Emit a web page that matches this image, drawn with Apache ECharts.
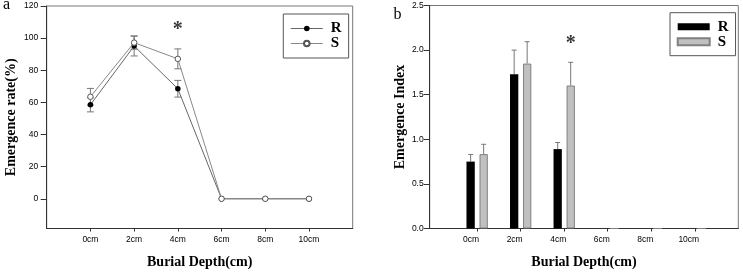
<!DOCTYPE html>
<html lang="en">
<head>
<meta charset="UTF-8">
<title>Emergence rate / Emergence Index</title>
<script src="https://cdn.jsdelivr.net/npm/echarts@6/dist/echarts.min.js"></script>
<style>
    html, body { margin: 0; padding: 0; background: #fff; }
    #main { width: 743px; height: 274px; }
</style>
</head>
<body>
<div id="main"></div>
<script type="text/javascript">
    // burial depth (cm) and their labels
    var depths = [0, 2, 4, 6, 8, 10];
    var depthLabels = ['0cm', '2cm', '4cm', '6cm', '8cm', '10cm'];

    // panel a: emergence rate (%), mean and error
    var rateR = [58.5, 95.1, 68.5, 0, 0, 0];
    var rateRErr = [4.4, 6.2, 5.2, 0, 0, 0];
    var rateS = [63.5, 97.2, 87.1, 0, 0, 0];
    var rateSErr = [5.2, 4.1, 6.2, 0, 0, 0];
    var rateTicks = [0, 20, 40, 60, 80, 100, 120];

    // panel b: emergence index, mean and error
    var indexR = [0.75, 1.73, 0.89, 0, 0, 0];
    var indexRErr = [0.08, 0.27, 0.074, 0, 0, 0];
    var indexS = [0.834, 1.849, 1.603, 0, 0, 0];
    var indexSErr = [0.11, 0.245, 0.26, 0, 0, 0];

    // significance marks (*)
    var starA = [[4, 107]];
    var starB = [[4, 2.1]];

    var serif = '"Liberation Serif", "Times New Roman", serif';
    var sans = '"Liberation Sans", Arial, sans-serif';

    function pairs(xs, ys, es) {
        var out = [];
        for (var i = 0; i < xs.length; i++) {
            out.push(es ? [xs[i], ys[i], es[i]] : [xs[i], ys[i]]);
        }
        return out;
    }

    // error bar with caps on both ends (panel a)
    function errBoth(color) {
        return function (params, api) {
            var x = api.value(0), y = api.value(1), e = api.value(2);
            if (!e) return null;
            var t = api.coord([x, y + e]), b = api.coord([x, y - e]);
            var w = 3.5;
            var st = { stroke: color, lineWidth: 1 };
            return {
                type: 'group',
                children: [
                    { type: 'line', shape: { x1: t[0], y1: t[1], x2: b[0], y2: b[1] }, style: st },
                    { type: 'line', shape: { x1: t[0] - w, y1: t[1], x2: t[0] + w, y2: t[1] }, style: st },
                    { type: 'line', shape: { x1: b[0] - w, y1: b[1], x2: b[0] + w, y2: b[1] }, style: st }
                ]
            };
        };
    }

    // upper error bar only (panel b), dx = offset of the bar in the group
    function errUp(color, dx) {
        return function (params, api) {
            var x = api.value(0), y = api.value(1), e = api.value(2);
            if (!e) return null;
            var t = api.coord([x, y + e]), b = api.coord([x, y]);
            var w = 2.5;
            var st = { stroke: color, lineWidth: 1 };
            return {
                type: 'group',
                children: [
                    { type: 'line', shape: { x1: t[0] + dx, y1: t[1], x2: b[0] + dx, y2: b[1] }, style: st },
                    { type: 'line', shape: { x1: t[0] + dx - w, y1: t[1], x2: t[0] + dx + w, y2: t[1] }, style: st }
                ]
            };
        };
    }

    function depthFmt(v) {
        var i = depths.indexOf(v);
        return i < 0 ? '' : depthLabels[i];
    }

    var myChart = echarts.init(document.getElementById('main'));

    var axisLineStyle = { color: '#333', width: 1 };

    option = {
        animation: false,
        textStyle: { fontFamily: sans },
        graphic: [
            { type: 'text', x: 3, y: 4.6, style: { text: 'a', font: '16px ' + serif, fill: '#000', verticalAlign: 'middle' } },
            { type: 'text', x: 393.5, y: 14.6, style: { text: 'b', font: '16px ' + serif, fill: '#000', verticalAlign: 'middle' } }
        ],
        grid: [
            { left: 46.7, top: 6, width: 306, height: 224.7, show: true, borderColor: '#777', borderWidth: 1 },
            { left: 429.7, top: 5.5, width: 308.6, height: 224.5, show: true, borderColor: '#777', borderWidth: 1 }
        ],
        legend: [
            {
                data: ['R', 'S'],
                orient: 'vertical',
                left: 283.3, top: 14,
                padding: [7, 7, 7, 7],
                itemGap: 0, itemWidth: 32, itemHeight: 7,
                borderColor: '#555', borderWidth: 1,
                selectedMode: false,
                lineStyle: { width: 1 },
                textStyle: { fontFamily: serif, fontWeight: 'bold', fontSize: 15, color: '#000', lineHeight: 15, padding: [0, 0, 0, 3] }
            },
            {
                data: ['R index', 'S index'],
                formatter: function (name) { return name.split(' ')[0]; },
                orient: 'vertical',
                left: 670, top: 12.7,
                padding: [6.5, 7, 6.5, 6.7],
                itemGap: 0, itemWidth: 32, itemHeight: 7,
                icon: 'rect',
                borderColor: '#555', borderWidth: 1,
                selectedMode: false,
                textStyle: { fontFamily: serif, fontWeight: 'bold', fontSize: 15, color: '#000', lineHeight: 15, padding: [0, 0, 0, 3] }
            }
        ],
        xAxis: [
            {
                gridIndex: 0, type: 'value', min: -2, max: 12,
                name: 'Burial Depth(cm)', nameLocation: 'middle', nameGap: 26.5,
                nameTextStyle: { fontFamily: serif, fontWeight: 'bold', fontSize: 14, color: '#000' },
                axisLine: { onZero: false, lineStyle: axisLineStyle },
                axisTick: { length: 3, customValues: depths, lineStyle: axisLineStyle },
                axisLabel: { customValues: depths, formatter: depthFmt, fontSize: 8.5, color: '#000', margin: 7 },
                splitLine: { show: false }
            },
            {
                gridIndex: 1, type: 'value', min: -2.18, max: 12,
                name: 'Burial Depth(cm)', nameLocation: 'middle', nameGap: 26.5,
                nameTextStyle: { fontFamily: serif, fontWeight: 'bold', fontSize: 14, color: '#000' },
                axisLine: { onZero: false, lineStyle: axisLineStyle },
                axisTick: { length: 3, customValues: depths, lineStyle: axisLineStyle },
                axisLabel: { customValues: depths, formatter: depthFmt, fontSize: 8.5, color: '#000', margin: 7, padding: [0, 12, 0, 0] },
                splitLine: { show: false }
            }
        ],
        yAxis: [
            {
                gridIndex: 0, type: 'value', min: -18.5, max: 120,
                name: 'Emergence rate(%)', nameLocation: 'middle', nameGap: 28,
                nameTextStyle: { fontFamily: serif, fontWeight: 'bold', fontSize: 14, color: '#000' },
                axisLine: { onZero: false, lineStyle: axisLineStyle },
                axisTick: { length: 6, customValues: rateTicks, lineStyle: axisLineStyle },
                axisLabel: { customValues: rateTicks, fontSize: 8.5, color: '#000', margin: 8.4 },
                splitLine: { show: false }
            },
            {
                gridIndex: 1, type: 'value', min: 0, max: 2.5, interval: 0.5,
                name: 'Emergence Index', nameLocation: 'middle', nameGap: 22,
                nameTextStyle: { fontFamily: serif, fontWeight: 'bold', fontSize: 14, color: '#000' },
                axisLine: { onZero: false, lineStyle: axisLineStyle },
                axisTick: { length: 6, lineStyle: axisLineStyle },
                axisLabel: { fontSize: 8.5, color: '#000', margin: 6, formatter: function (v) { return v.toFixed(1); } },
                splitLine: { show: false }
            }
        ],
        series: [
            {
                type: 'custom', xAxisIndex: 0, yAxisIndex: 0, z: 1,
                renderItem: errBoth('#777'), encode: { x: 0, y: 1 },
                data: pairs(depths, rateR, rateRErr)
            },
            {
                type: 'custom', xAxisIndex: 0, yAxisIndex: 0, z: 1,
                renderItem: errBoth('#777'), encode: { x: 0, y: 1 },
                data: pairs(depths, rateS, rateSErr)
            },
            {
                name: 'R', type: 'line', xAxisIndex: 0, yAxisIndex: 0, z: 3,
                symbol: 'circle', symbolSize: 5.5,
                itemStyle: { color: '#000' },
                lineStyle: { color: '#666', width: 1 },
                data: pairs(depths, rateR)
            },
            {
                name: 'S', type: 'line', xAxisIndex: 0, yAxisIndex: 0, z: 4,
                symbol: 'circle', symbolSize: 5.5,
                itemStyle: { color: '#fff', borderColor: '#555', borderWidth: 1 },
                lineStyle: { color: '#888', width: 1 },
                data: pairs(depths, rateS)
            },
            {
                name: 'R index', type: 'bar', xAxisIndex: 1, yAxisIndex: 1,
                barWidth: 8.3, barGap: '57%',
                itemStyle: { color: '#000' },
                data: pairs(depths, indexR)
            },
            {
                name: 'S index', type: 'bar', xAxisIndex: 1, yAxisIndex: 1,
                barWidth: 8.3, barGap: '57%',
                itemStyle: { color: '#c0c0c0', borderColor: '#808080', borderWidth: 1 },
                data: pairs(depths, indexS)
            },
            {
                type: 'custom', xAxisIndex: 1, yAxisIndex: 1, z: 1,
                renderItem: errUp('#777', -6.5), encode: { x: 0, y: 1 },
                data: pairs(depths, indexR, indexRErr)
            },
            {
                type: 'custom', xAxisIndex: 1, yAxisIndex: 1, z: 1,
                renderItem: errUp('#777', 6.5), encode: { x: 0, y: 1 },
                data: pairs(depths, indexS, indexSErr)
            },
            {
                type: 'scatter', xAxisIndex: 0, yAxisIndex: 0, symbolSize: 0,
                label: { show: true, position: 'inside', formatter: '*', fontFamily: serif, fontWeight: 'bold', fontSize: 20, color: '#000', offset: [0, 3] },
                data: starA
            },
            {
                type: 'scatter', xAxisIndex: 1, yAxisIndex: 1, symbolSize: 0,
                label: { show: true, position: 'inside', formatter: '*', fontFamily: serif, fontWeight: 'bold', fontSize: 20, color: '#000', offset: [6.5, 3] },
                data: starB
            }
        ]
    };

    myChart.setOption(option);
</script>
</body>
</html>
